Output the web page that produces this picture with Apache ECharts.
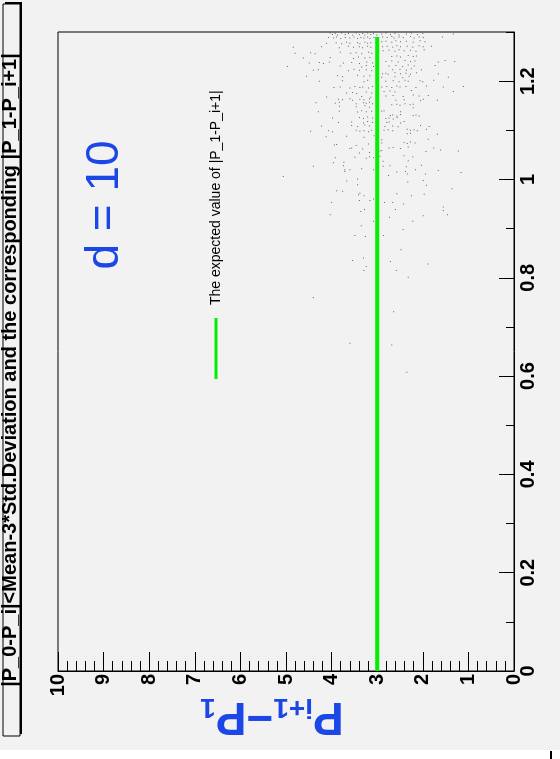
<!DOCTYPE html>
<html>
<head>
<meta charset="utf-8">
<script src="https://cdn.jsdelivr.net/npm/echarts@6/dist/echarts.min.js"></script>
<style>
html,body{margin:0;padding:0;background:#ffffff;}
#c{width:560px;height:759px;}
</style>
</head>
<body>
<div id="c"></div>
<script>
// ---- data (value of P_i+1 - P_1, position 0..1.3) ----
const titleText = "|P_0-P_i|<Mean-3*Std.Deviation and the corresponding |P_1-P_i+1|";
const legendText = "The expected value of |P_1-P_i+1|";
const annotation = "d = 10";
const diffTicks = [0,1,2,3,4,5,6,7,8,9,10];
const posTicks = [0,0.2,0.4,0.6,0.8,1,1.2];
const expectedValue = 3;
const expectedRange = [0, 1.29];

// scatter points [P_i+1 - P_1, position]
const pointsTopLeft = [
[4.03,1.298],[3.98,1.295],[3.92,1.297],[3.87,1.294],[3.78,1.298],[3.70,1.295],[3.63,1.297],[3.54,1.294],[3.46,1.298],[3.39,1.295],[3.32,1.297],[3.27,1.294],[3.21,1.298],[3.14,1.295],[3.08,1.297],[3.01,1.294],
[4.07,1.289],[3.96,1.288],[3.89,1.290],[3.80,1.287],[3.70,1.289],[3.60,1.288],[3.51,1.290],[3.43,1.287],[3.36,1.289],[3.29,1.288],[3.21,1.290],[3.16,1.287],[3.07,1.289],
[4.11,1.277],[3.90,1.278],[3.78,1.276],[3.67,1.279],[3.60,1.277],[3.43,1.278],[3.38,1.276],[3.27,1.279],[3.21,1.277],[3.14,1.278],
[4.84,1.269],[4.22,1.270],[3.83,1.268],[3.63,1.271],[3.52,1.269],[3.39,1.270],[3.32,1.268],[3.21,1.271],[3.14,1.269],
[4.80,1.257],[4.46,1.258],[4.36,1.256],[3.81,1.259],[3.58,1.257],[3.46,1.258],[3.34,1.256],[3.19,1.259],[3.12,1.257],
[4.62,1.247],[4.03,1.248],[3.52,1.246],[3.41,1.249],[3.27,1.247],[3.16,1.248],
[4.49,1.237],[4.27,1.238],[4.18,1.236],[4.05,1.239],[3.74,1.237],[3.56,1.238],[3.39,1.236],[3.23,1.239],[3.10,1.237],
[4.97,1.230],[3.81,1.231],[3.34,1.229],[3.24,1.232],[3.08,1.230],
[4.40,1.222],[4.29,1.223],[3.63,1.221],[3.51,1.224],[3.39,1.222],[3.24,1.223],[3.12,1.221],
[4.55,1.210],[3.87,1.211],[3.76,1.209],[3.43,1.212],[3.29,1.210],[3.16,1.211],
[4.27,1.200],[3.76,1.201],[3.29,1.199],[3.21,1.202],
[3.95,1.187],[3.81,1.188],[3.60,1.186],[3.49,1.189],[3.38,1.187],[3.32,1.188],[3.19,1.186],[3.10,1.189],
[3.67,1.176],[3.54,1.177],[3.45,1.175],[3.24,1.178],[3.12,1.176],
[4.11,1.168],[3.34,1.169],[3.14,1.167]
];
const pointsTopRight = [
[2.90,1.296],[2.81,1.298],[2.71,1.295],[2.61,1.297],[2.52,1.294],[2.36,1.296],[2.25,1.298],[2.12,1.295],[2.00,1.297],[1.33,1.296],
[2.88,1.290],[2.78,1.289],[2.68,1.291],[2.63,1.288],[2.52,1.290],[2.43,1.289],[2.27,1.291],[2.19,1.288],[2.08,1.290],[1.99,1.289],[1.57,1.290],
[2.90,1.280],[2.81,1.281],[2.68,1.279],[2.59,1.282],[2.49,1.280],[2.36,1.281],[2.21,1.279],[2.06,1.282],[1.95,1.280],
[2.88,1.270],[2.78,1.271],[2.66,1.269],[2.57,1.272],[2.49,1.270],[2.34,1.271],[2.22,1.269],[2.08,1.272],[1.99,1.270],[1.81,1.271],
[2.87,1.262],[2.74,1.263],[2.61,1.261],[2.52,1.264],[2.41,1.262],[2.27,1.263],[2.15,1.261],[1.97,1.264],
[2.68,1.250],[2.57,1.251],[2.49,1.249],[2.32,1.252],[2.21,1.250],[2.14,1.251],
[2.81,1.240],[2.68,1.241],[2.54,1.239],[2.39,1.242],[2.27,1.240],[2.17,1.241],[1.66,1.239],[1.51,1.242],[1.30,1.240],
[2.74,1.231],[2.59,1.232],[2.44,1.230],[2.32,1.233],[2.19,1.231],[1.73,1.232],
[2.66,1.223],[2.50,1.224],[2.36,1.222],[2.25,1.225],[2.03,1.223],
[2.88,1.215],[2.81,1.216],[2.76,1.214],[2.61,1.217],[2.49,1.215],[2.37,1.216],[2.27,1.214],[2.14,1.217],[1.66,1.215],
[2.90,1.208],[2.61,1.209],[2.44,1.207],[2.30,1.210],[1.44,1.208],
[2.81,1.200],[2.65,1.201],[2.52,1.199],[2.39,1.202],[2.32,1.200],[2.06,1.201],[2.00,1.199],[1.76,1.202],
[2.90,1.188],[2.79,1.189],[2.68,1.187],[2.57,1.190],[2.50,1.188],[2.37,1.189],[2.15,1.187],[1.92,1.190],[1.55,1.188],[1.11,1.189],
[2.85,1.179],[2.72,1.180],[2.61,1.178],[2.25,1.181],[1.33,1.179],
[2.81,1.170],[2.65,1.171],[2.43,1.169],[2.21,1.172],[2.08,1.170],[1.88,1.171]
];
const pointsMiddle = [
[3.85,1.163],[3.76,1.162],[3.60,1.164],[3.54,1.161],[3.38,1.163],[3.29,1.162],[3.17,1.164],
[4.34,1.156],[3.92,1.155],[3.83,1.157],[3.46,1.154],[3.30,1.156],[3.24,1.155],[3.17,1.157],[3.10,1.154],
[3.83,1.149],[3.46,1.148],[3.27,1.150],[3.17,1.147],
[4.29,1.138],[3.83,1.139],[3.43,1.137],[3.34,1.140],[3.24,1.138],[3.12,1.139],
[3.98,1.125],[3.39,1.126],[3.30,1.124],[3.21,1.127],[3.10,1.125],
[3.85,1.116],[3.56,1.117],[3.30,1.115],[3.21,1.118],[3.10,1.116],
[4.22,1.109],[3.56,1.110],[3.43,1.108],[3.27,1.111],[3.17,1.109],
[4.46,1.098],[4.07,1.099],[3.98,1.097],[3.46,1.100],[3.38,1.098],[3.29,1.099],[3.19,1.097],[3.12,1.100],
[4.12,1.087],[3.67,1.088],[3.29,1.086],[3.07,1.089],
[3.94,1.070],[3.89,1.071],[3.46,1.069],[3.19,1.072],
[3.60,1.063],[3.56,1.064],[3.32,1.062],
[3.39,1.054],[3.17,1.055],
[3.92,1.044],[3.49,1.045],[3.24,1.043],[3.17,1.046],[3.08,1.044],
[3.96,1.034],[3.73,1.035],
[4.40,1.027],[3.74,1.028],
[2.59,1.161],[2.41,1.162],[2.05,1.160],[1.99,1.163],[1.68,1.161],
[2.68,1.152],[2.57,1.153],[2.50,1.151],[2.39,1.154],[2.28,1.152],[2.21,1.153],
[2.21,1.146],
[2.90,1.139],[2.85,1.140],[2.49,1.138],
[2.71,1.130],[2.66,1.131],[2.57,1.129],[2.49,1.132],[2.21,1.130],[2.15,1.131],[2.08,1.129],
[2.81,1.124],[2.74,1.125],[2.65,1.123],[2.56,1.126],
[2.79,1.116],[2.74,1.117],[2.49,1.115],[2.41,1.118],
[2.83,1.108],[2.66,1.109],[2.54,1.107],[2.05,1.110],[1.86,1.108],
[2.85,1.100],[2.76,1.101],[2.66,1.099],[2.34,1.102],[2.27,1.100],[2.19,1.101],[2.12,1.099],[1.92,1.102],
[2.34,1.093],[2.27,1.094],[1.68,1.092],
[2.90,1.081],[1.88,1.082],
[2.90,1.074],[2.41,1.075],[2.34,1.073],[2.27,1.076],[2.17,1.074],
[2.74,1.064],[2.65,1.065],[2.49,1.063],[2.32,1.066],[1.76,1.064],
[2.94,1.058],[2.90,1.059],[1.93,1.057],[1.61,1.060],[1.22,1.058],
[2.94,1.047],[2.41,1.048],[2.22,1.046],
[2.87,1.037],[2.32,1.038],
[2.87,1.027],[2.72,1.028],[2.36,1.026],[2.03,1.029]
];
const pointsLow = [
[5.06,1.006],[3.71,1.020],[3.71,1.016],[3.60,1.020],[3.43,1.001],[3.34,1.022],[3.08,1.020],[3.67,0.997],[3.43,0.989],
[3.89,0.977],[3.76,0.976],[3.41,0.969],[3.38,0.972],[3.29,0.967],[3.39,0.957],[3.16,0.957],[3.08,0.960],[4.00,0.953],
[3.28,0.939],[3.36,0.935],[4.03,0.928],[3.08,0.915],[3.35,0.906],[3.49,0.886],[3.26,0.884],[3.54,0.835],[3.30,0.840],
[3.24,0.823],[3.29,0.815],[4.40,0.760],
[2.75,1.008],[2.57,1.015],[2.38,1.016],[2.34,1.011],[2.16,1.020],[1.94,1.011],[1.66,1.018],[1.16,1.014],[2.33,0.995],
[1.99,0.998],[1.92,0.988],[1.36,0.981],[2.57,0.971],[2.25,0.967],[1.97,0.970],[2.84,0.953],[2.66,0.953],[2.42,0.950],
[2.60,0.939],[1.55,0.944],[1.55,0.937],[1.46,0.928],[1.99,0.926],[2.73,0.923],[2.22,0.915],[2.43,0.898],[2.86,0.886],
[2.48,0.857],[1.89,0.828],[2.71,0.833],[2.58,0.815],[2.32,0.801],[2.64,0.731],
[3.60,0.667],[2.68,0.663],[2.35,0.608]
];

const allPoints = pointsTopLeft.concat(pointsTopRight, pointsMiddle, pointsLow);

// ---- chart ----
const BLUE = '#1a47e6';
const FONT = 'Liberation Sans, Arial, sans-serif';
const chart = echarts.init(document.getElementById('c'), null, {renderer: 'canvas'});

const fmt = v => {
  const r = Math.round(v * 10) / 10;
  return String(r);
};

chart.setOption({
  backgroundColor: 'transparent',
  animation: false,
  grid: {left: 58, top: 32, width: 456, height: 639, show: true, borderColor: '#000', borderWidth: 1, backgroundColor: 'transparent'},
  xAxis: {
    type: 'value', min: diffTicks[0], max: diffTicks[diffTicks.length - 1], interval: 1, inverse: true,
    position: 'bottom',
    axisLine: {show: true, onZero: false, lineStyle: {color: '#000', width: 1}},
    axisTick: {show: true, inside: true, length: 19, lineStyle: {color: '#000', width: 1}},
    minorTick: {show: true, splitNumber: 5, length: 10, lineStyle: {color: '#000', width: 1}},
    splitLine: {show: false},
    axisLabel: {rotate: 90, margin: 3, fontSize: 20, fontWeight: 'bold', fontFamily: FONT, color: '#000',
      formatter: v => String(v)}
  },
  yAxis: [{
    type: 'value', min: 0, max: 1.3, interval: 0.1, position: 'right',
    axisLine: {show: true, onZero: false, lineStyle: {color: '#000', width: 1}},
    axisTick: {show: true, inside: true, length: 8, lineStyle: {color: '#000', width: 1}},
    splitLine: {show: false},
    axisLabel: {show: false}
  }, {
    type: 'value', min: 0, max: 1.3, position: 'right',
    axisLine: {show: false},
    axisTick: {show: true, inside: true, length: 15, customValues: posTicks, lineStyle: {color: '#000', width: 1}},
    splitLine: {show: false},
    axisLabel: {show: true, customValues: posTicks, rotate: 90, margin: 4, fontSize: 20, fontWeight: 'bold', fontFamily: FONT, color: '#000',
      align: 'center', verticalAlign: 'top', formatter: fmt}
  }],
  series: [{
    type: 'scatter', data: allPoints, symbol: 'rect', symbolSize: 1,
    itemStyle: {color: '#444'}, silent: true, z: 2
  }, {
    type: 'line', data: [[expectedValue, expectedRange[0]], [expectedValue, expectedRange[1]]],
    symbol: 'none', lineStyle: {color: '#00f000', width: 4}, z: 3, silent: true
  }],
  graphic: [
    {type: 'rect', z: -10, shape: {x: 0, y: 0, width: 560, height: 750}, style: {fill: '#f2f2f2'}},
    {type: 'rect', z: 1, shape: {x: 5, y: 2, width: 17, height: 732}, style: {fill: '#000'}},
    {type: 'rect', z: 2, shape: {x: 3, y: 4, width: 17, height: 732}, style: {fill: '#f2f2f2', stroke: '#000', lineWidth: 1}},
    {type: 'text', z: 3, x: 10.5, y: 370, rotation: Math.PI / 2,
      style: {text: titleText, fontSize: 20, fontWeight: 'bold', fontFamily: FONT, fill: '#000', textAlign: 'center', textVerticalAlign: 'middle'}},
    {type: 'text', z: 3, x: 105, y: 205, rotation: Math.PI / 2,
      style: {text: annotation, fontSize: 46, fontFamily: FONT, fill: BLUE, textAlign: 'center', textVerticalAlign: 'middle'}},
    {type: 'line', z: 3, shape: {x1: 216, y1: 318, x2: 216, y2: 379}, style: {stroke: '#00f000', lineWidth: 3}},
    {type: 'text', z: 3, x: 216, y: 305, rotation: Math.PI / 2,
      style: {text: legendText, fontSize: 14, fontFamily: FONT, fill: '#000', textAlign: 'left', textVerticalAlign: 'middle'}},
    {type: 'text', z: 3, x: 272, y: 722, rotation: Math.PI,
      style: {text: '{p|P}{s|i+1}{p|\u2212P}{s|1}', textAlign: 'center', textVerticalAlign: 'middle', fill: BLUE,
        rich: {
          p: {fontSize: 46, fontWeight: 'bold', fontFamily: FONT, fill: BLUE, verticalAlign: 'bottom', lineHeight: 58},
          s: {fontSize: 28, fontWeight: 'bold', fontFamily: FONT, fill: BLUE, verticalAlign: 'bottom', lineHeight: 58}
        }}},
    {type: 'line', z: 3, shape: {x1: 551, y1: 751, x2: 551, y2: 759}, style: {stroke: '#000', lineWidth: 2}}
  ]
});
</script>
</body>
</html>
